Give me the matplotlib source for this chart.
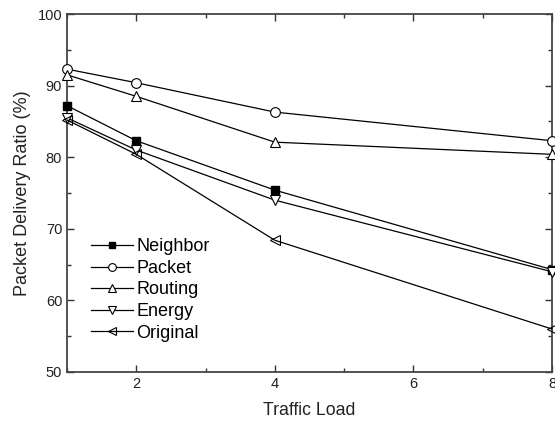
import matplotlib
matplotlib.use('Agg')
import matplotlib.pyplot as plt
from matplotlib.ticker import MultipleLocator

plt.rcParams['font.family'] = ['Liberation Sans', 'DejaVu Sans']

traffic_load = [1, 2, 4, 8]
neighbor = [87.2, 82.3, 75.4, 64.3]
packet = [92.3, 90.4, 86.3, 82.3]
routing = [91.5, 88.5, 82.1, 80.4]
energy = [85.5, 81.0, 74.0, 64.0]
original = [85.2, 80.4, 68.4, 56.0]

fig = plt.figure(figsize=(5.55, 4.23), dpi=100)
ax = fig.add_axes([0.1207, 0.1206, 0.8739, 0.8463])

lw = 0.9
ax.plot(traffic_load, neighbor, color='black', lw=lw, marker='s', ms=6,
        mfc='black', mec='black', label='Neighbor', clip_on=False, zorder=3)
ax.plot(traffic_load, packet, color='black', lw=lw, marker='o', ms=7,
        mfc='white', mec='black', mew=0.8, label='Packet', clip_on=False, zorder=3)
ax.plot(traffic_load, routing, color='black', lw=lw, marker='^', ms=7,
        mfc='white', mec='black', mew=0.8, label='Routing', clip_on=False, zorder=3)
ax.plot(traffic_load, energy, color='black', lw=lw, marker='v', ms=7,
        mfc='white', mec='black', mew=0.8, label='Energy', clip_on=False, zorder=3)
ax.plot(traffic_load, original, color='black', lw=lw, marker='<', ms=7,
        mfc='none', mec='black', mew=0.8, label='Original', clip_on=False, zorder=3)

ax.set_xlim(1, 8)
ax.set_ylim(50, 100)
ax.xaxis.set_major_locator(MultipleLocator(2))
ax.xaxis.set_minor_locator(MultipleLocator(1))
ax.yaxis.set_major_locator(MultipleLocator(10))
ax.yaxis.set_minor_locator(MultipleLocator(5))
ax.tick_params(which='both', direction='in', top=True, right=True, width=1, colors='#333333',
               labelcolor='#222222')
ax.tick_params(which='major', length=5, labelsize=10.5)
ax.tick_params(which='minor', length=3)
for s in ax.spines.values():
    s.set_linewidth(1.3)
    s.set_color('#444444')

ax.set_xlabel('Traffic Load', fontsize=12.7, color='#222222', labelpad=8)
ax.set_ylabel('Packet Delivery Ratio (%)', fontsize=13, color='#222222', labelpad=5)

ax.legend(loc='upper left', bbox_to_anchor=(0.05, 0.373), frameon=False, fontsize=13,
          handlelength=2.3, handletextpad=0.2, labelspacing=0.25, borderpad=0,
          borderaxespad=0, markerscale=0.8)

fig.savefig('out.png', dpi=100)
